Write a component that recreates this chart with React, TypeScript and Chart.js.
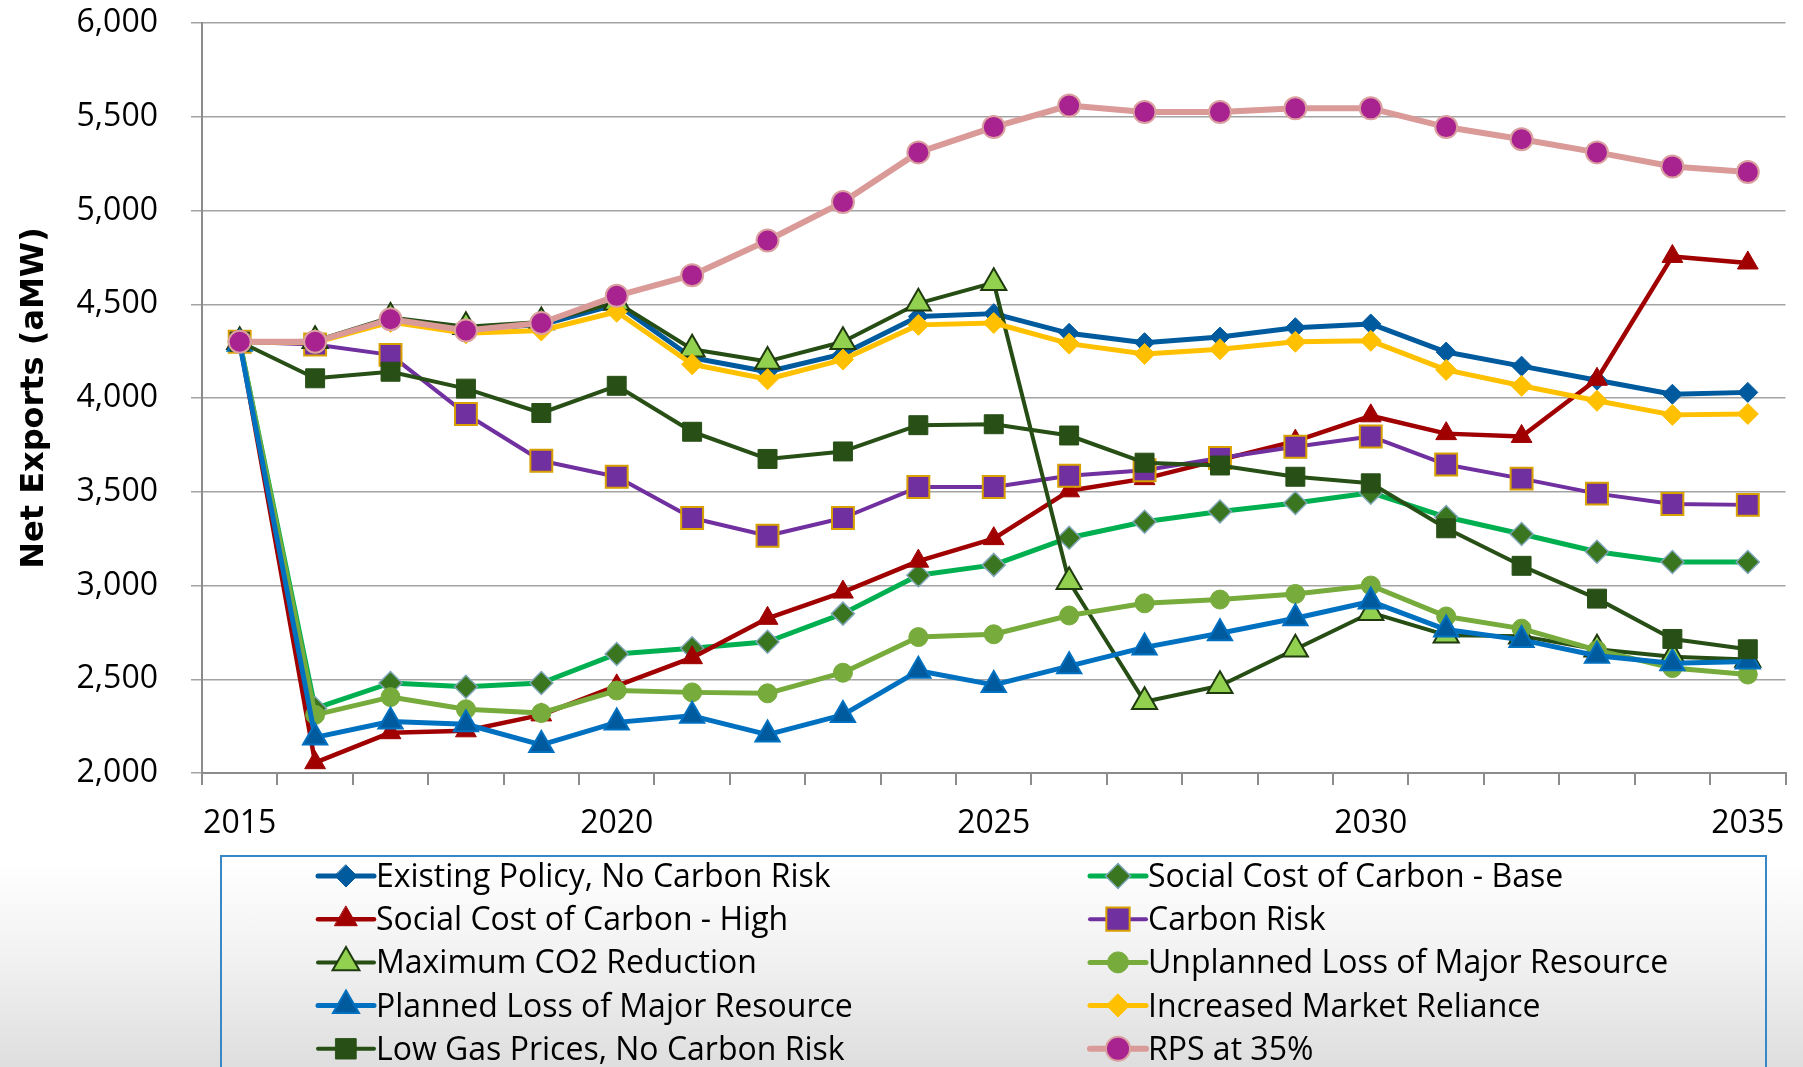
import React, { useEffect, useRef } from 'react';
import { Chart, registerables } from 'chart.js';

Chart.register(...registerables);

// ---- data ----------------------------------------------------------------
const years = [
  '2015', '2016', '2017', '2018', '2019', '2020', '2021', '2022', '2023', '2024', '2025',
  '2026', '2027', '2028', '2029', '2030', '2031', '2032', '2033', '2034', '2035',
];

const existingPolicy = [4300, 4300, 4420, 4370, 4390, 4500, 4215, 4140, 4235, 4435, 4450, 4345, 4295, 4325, 4375, 4395, 4245, 4170, 4095, 4020, 4030];
const sccBase = [4300, 2345, 2480, 2460, 2480, 2635, 2665, 2700, 2850, 3055, 3110, 3255, 3340, 3395, 3440, 3495, 3365, 3275, 3180, 3125, 3125];
const sccHigh = [4300, 2055, 2215, 2225, 2310, 2465, 2615, 2825, 2965, 3130, 3250, 3505, 3570, 3670, 3770, 3905, 3810, 3795, 4100, 4755, 4720];
const carbonRisk = [4300, 4285, 4230, 3915, 3665, 3580, 3360, 3265, 3360, 3525, 3525, 3585, 3615, 3680, 3740, 3795, 3645, 3570, 3490, 3435, 3430];
const maxCO2 = [4300, 4305, 4430, 4380, 4405, 4510, 4260, 4195, 4300, 4505, 4615, 3020, 2380, 2465, 2660, 2855, 2735, 2730, 2660, 2620, 2605];
const unplannedLoss = [4300, 2310, 2405, 2340, 2320, 2440, 2430, 2425, 2535, 2725, 2740, 2840, 2905, 2925, 2955, 3000, 2835, 2770, 2655, 2560, 2525];
const plannedLoss = [4290, 2190, 2275, 2260, 2150, 2270, 2305, 2205, 2310, 2545, 2470, 2570, 2670, 2745, 2825, 2915, 2765, 2710, 2625, 2585, 2595];
const marketReliance = [4300, 4295, 4405, 4345, 4360, 4460, 4180, 4100, 4205, 4390, 4400, 4290, 4235, 4260, 4300, 4305, 4150, 4065, 3985, 3910, 3915];
const lowGas = [4300, 4105, 4140, 4050, 3920, 4065, 3820, 3675, 3715, 3855, 3860, 3800, 3655, 3640, 3580, 3545, 3305, 3105, 2930, 2715, 2660];
const rps35 = [4300, 4300, 4420, 4360, 4400, 4545, 4655, 4840, 5045, 5310, 5445, 5560, 5525, 5525, 5545, 5545, 5445, 5380, 5310, 5235, 5205];

const yMin = 2000;
const yMax = 6000;
const yStep = 500;
const yTitle = 'Net Exports (aMW)';
const xLabelEvery = 5;

// ---- series styling --------------------------------------------------------
type SeriesStyle = {
  label: string;
  data: number[];
  line: string;
  lineWidth: number;
  marker: 'circle' | 'triangle' | 'rect' | 'rectRot';
  radius: number;
  fill: string;
  stroke: string;
  strokeWidth: number;
};

const series: SeriesStyle[] = [
  { label: 'Existing Policy, No Carbon Risk', data: existingPolicy, line: '#005a9e', lineWidth: 5, marker: 'rectRot', radius: 10, fill: '#005a9e', stroke: '#005a9e', strokeWidth: 1 },
  { label: 'Social Cost of Carbon - Base', data: sccBase, line: '#00b050', lineWidth: 5, marker: 'rectRot', radius: 11.5, fill: '#3a7520', stroke: '#7fa6b6', strokeWidth: 1.5 },
  { label: 'Social Cost of Carbon - High', data: sccHigh, line: '#a00000', lineWidth: 4.5, marker: 'triangle', radius: 12, fill: '#a00000', stroke: '#a00000', strokeWidth: 1 },
  { label: 'Carbon Risk', data: carbonRisk, line: '#7030a0', lineWidth: 4, marker: 'rect', radius: 15.5, fill: '#7030a0', stroke: '#d8a100', strokeWidth: 2 },
  { label: 'Maximum CO2 Reduction', data: maxCO2, line: '#264d14', lineWidth: 4, marker: 'triangle', radius: 14.5, fill: '#92d050', stroke: '#1e3a0e', strokeWidth: 2 },
  { label: 'Unplanned Loss of Major Resource', data: unplannedLoss, line: '#77ab3c', lineWidth: 5, marker: 'circle', radius: 9.5, fill: '#77ab3c', stroke: '#77ab3c', strokeWidth: 1 },
  { label: 'Planned Loss of Major Resource', data: plannedLoss, line: '#0070c0', lineWidth: 5, marker: 'triangle', radius: 14, fill: '#005a9e', stroke: '#0070c0', strokeWidth: 2 },
  { label: 'Increased Market Reliance', data: marketReliance, line: '#ffc000', lineWidth: 5, marker: 'rectRot', radius: 10.5, fill: '#ffc000', stroke: '#ffc000', strokeWidth: 1 },
  { label: 'Low Gas Prices, No Carbon Risk', data: lowGas, line: '#285016', lineWidth: 4, marker: 'rect', radius: 13.4, fill: '#285016', stroke: '#285016', strokeWidth: 1 },
  { label: 'RPS at 35%', data: rps35, line: '#d99a98', lineWidth: 6, marker: 'circle', radius: 11, fill: '#a8238f', stroke: '#dba0a0', strokeWidth: 2 },
];

const TICK_FONT = '"Open Sans", "Liberation Sans", sans-serif';

// ---- legend drawn under the plot -------------------------------------------
function drawMarker(
  ctx: CanvasRenderingContext2D,
  s: SeriesStyle,
  x: number,
  y: number,
  r: number
) {
  ctx.beginPath();
  if (s.marker === 'circle') {
    ctx.arc(x, y, r, 0, Math.PI * 2);
  } else if (s.marker === 'triangle') {
    const dx = r * Math.sin(Math.PI / 3);
    ctx.moveTo(x, y - r);
    ctx.lineTo(x + dx, y + r / 2);
    ctx.lineTo(x - dx, y + r / 2);
    ctx.closePath();
  } else if (s.marker === 'rectRot') {
    ctx.moveTo(x, y - r);
    ctx.lineTo(x + r, y);
    ctx.lineTo(x, y + r);
    ctx.lineTo(x - r, y);
    ctx.closePath();
  } else {
    const h = r * Math.SQRT1_2;
    ctx.rect(x - h, y - h, 2 * h, 2 * h);
  }
  ctx.fillStyle = s.fill;
  ctx.fill();
  if (s.strokeWidth > 0) {
    ctx.lineWidth = s.strokeWidth;
    ctx.strokeStyle = s.stroke;
    ctx.stroke();
  }
}

const boxLegend = {
  id: 'boxLegend',
  afterDraw(chart: Chart) {
    const ctx = chart.ctx;
    const colX = [318, 1090];
    const rowY0 = 876;
    const rowGap = 43.2;
    const sample = 56;
    ctx.save();
    ctx.strokeStyle = '#3a87c8';
    ctx.lineWidth = 2;
    ctx.strokeRect(221, 856, 1545, 300);

    ctx.font = `32px ${TICK_FONT}`;
    ctx.textAlign = 'left';
    ctx.textBaseline = 'alphabetic';
    series.forEach((s, i) => {
      const x0 = colX[i % 2];
      const y = rowY0 + Math.floor(i / 2) * rowGap;
      ctx.beginPath();
      ctx.moveTo(x0, y);
      ctx.lineTo(x0 + sample, y);
      ctx.strokeStyle = s.line;
      ctx.lineWidth = s.lineWidth;
      ctx.lineCap = 'round';
      ctx.stroke();
      drawMarker(ctx, s, x0 + sample / 2, y, s.radius + 1);
      ctx.fillStyle = '#000';
      ctx.fillText(s.label, x0 + sample + 2, y + 11);
    });
    ctx.restore();
  },
};

export default function App() {
  const canvasRef = useRef<HTMLCanvasElement | null>(null);

  useEffect(() => {
    const canvas = canvasRef.current;
    if (!canvas) return;

    const chart = new Chart(canvas, {
      type: 'line',
      data: {
        labels: years,
        datasets: series.map((s, i) => ({
          label: s.label,
          data: s.data,
          order: series.length - 1 - i,
          borderColor: s.line,
          borderWidth: s.lineWidth,
          borderJoinStyle: 'round' as const,
          borderCapStyle: 'round' as const,
          tension: 0,
          fill: false,
          pointStyle: s.marker,
          pointRadius: s.radius,
          pointBackgroundColor: s.fill,
          pointBorderColor: s.stroke,
          pointBorderWidth: s.strokeWidth,
        })),
      },
      options: {
        responsive: false,
        animation: false,
        events: [],
        layout: { padding: { top: 23, right: 17, left: 0, bottom: 0 } },
        plugins: {
          legend: { display: false },
          tooltip: { enabled: false },
          title: { display: false },
        },
        scales: {
          x: {
            type: 'category',
            offset: true,
            grid: {
              offset: true,
              drawOnChartArea: false,
              drawTicks: true,
              tickLength: 12,
              color: '#8c8c8c',
              lineWidth: 2,
            },
            border: { display: true, color: '#8c8c8c', width: 2 },
            ticks: {
              autoSkip: false,
              maxRotation: 0,
              minRotation: 0,
              padding: 20,
              color: '#000',
              font: { family: TICK_FONT, size: 32 },
              callback: (_v: any, idx: number) => (idx % xLabelEvery === 0 ? years[idx] : ''),
            },
            afterFit: (scale: any) => {
              scale.height = 294;
              scale.paddingLeft = 0;
              scale.paddingRight = 0;
            },
          },
          y: {
            min: yMin,
            max: yMax,
            grid: {
              color: '#a3a3a3',
              lineWidth: 1.5,
              drawTicks: true,
              tickLength: 11,
            },
            border: { display: true, color: '#8c8c8c', width: 2 },
            ticks: {
              stepSize: yStep,
              padding: 33,
              color: '#000',
              font: { family: TICK_FONT, size: 32 },
              callback: (v: any) => Number(v).toLocaleString('en-US'),
            },
            title: {
              display: true,
              text: yTitle,
              color: '#000',
              font: { family: '"DejaVu Sans", Verdana, sans-serif', size: 32, weight: 'bold' },
              padding: { top: 15, bottom: 0 },
            },
            afterFit: (scale: any) => {
              scale.width = 202;
              scale.paddingTop = 0;
              scale.paddingBottom = 0;
            },
          },
        },
      },
      plugins: [boxLegend],
    });

    return () => {
      chart.destroy();
    };
  }, []);

  return (
    <div
      style={{
        position: 'absolute',
        left: 0,
        top: 0,
        width: 1803,
        height: 1067,
        overflow: 'hidden',
        background: 'linear-gradient(to bottom, #ffffff 0px, #ffffff 860px, #f1f1f1 960px, #dedede 1067px)',
      }}
    >
      <canvas ref={canvasRef} width={1803} height={1067} style={{ display: 'block' }} />
    </div>
  );
}
